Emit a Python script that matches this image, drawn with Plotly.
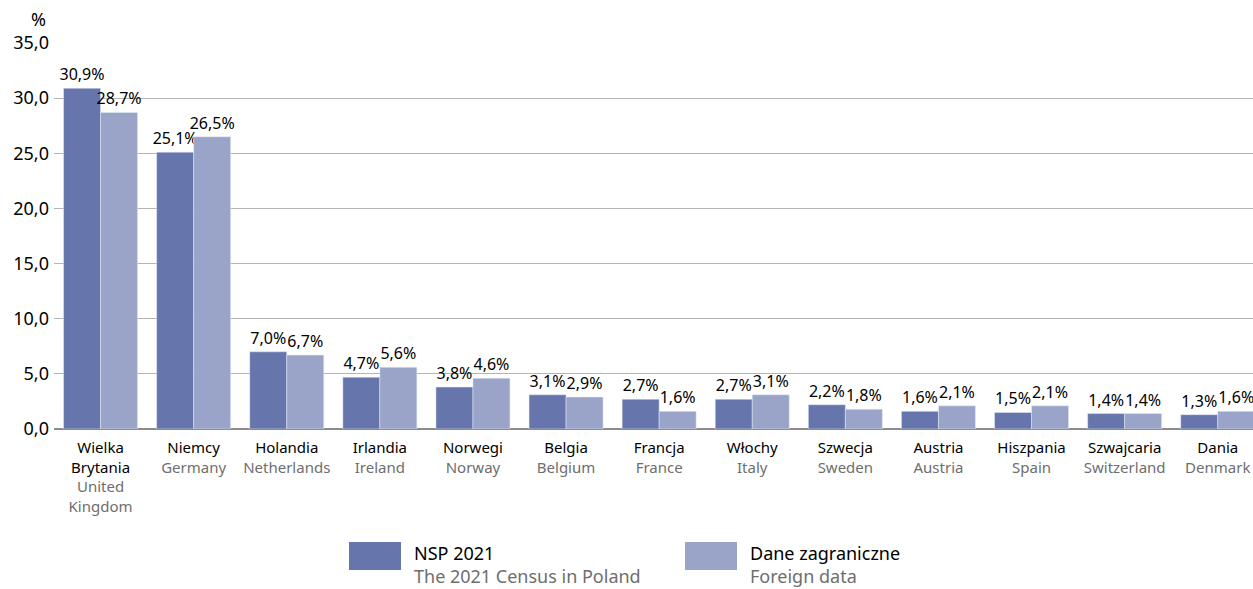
import plotly.graph_objects as go

countries_pl = ["Wielka<br>Brytania", "Niemcy", "Holandia", "Irlandia", "Norwegi", "Belgia",
                "Francja", "Włochy", "Szwecja", "Austria", "Hiszpania", "Szwajcaria", "Dania"]
countries_en = ["United<br>Kingdom", "Germany", "Netherlands", "Ireland", "Norway", "Belgium",
                "France", "Italy", "Sweden", "Austria", "Spain", "Switzerland", "Denmark"]
nsp_2021 = [30.9, 25.1, 7.0, 4.7, 3.8, 3.1, 2.7, 2.7, 2.2, 1.6, 1.5, 1.4, 1.3]
foreign = [28.7, 26.5, 6.7, 5.6, 4.6, 2.9, 1.6, 3.1, 1.8, 2.1, 2.1, 1.4, 1.6]
y_ticks = [0, 5, 10, 15, 20, 25, 30, 35]

DARK = "#6675ab"
LIGHT = "#9aa4c8"
GRAY = "#6e6e6e"
FONT = "Noto Sans"

W, H = 1253, 589
ML, MR, MT, MB = 54, 0, 43, 160
PW, PH = W - ML - MR, H - MT - MB

def fmt(v):
    return f"{v:.1f}".replace(".", ",")

xs = list(range(len(countries_pl)))
ticktext = [f"{p}<br><span style='color:{GRAY}'>{e}</span>" for p, e in zip(countries_pl, countries_en)]

fig = go.Figure()
fig.add_trace(go.Bar(x=xs, y=nsp_2021, name="NSP 2021", marker_color=DARK,
                     text=[fmt(v) + "%" for v in nsp_2021], textposition="outside",
                     textfont=dict(size=16, color="black", family=FONT),
                     constraintext="none", cliponaxis=False, showlegend=False))
fig.add_trace(go.Bar(x=xs, y=foreign, name="Dane zagraniczne", marker_color=LIGHT,
                     text=[fmt(v) + "%" for v in foreign], textposition="outside",
                     textfont=dict(size=16, color="black", family=FONT),
                     constraintext="none", cliponaxis=False, showlegend=False))

span = PW / 93.1
fig.update_layout(
    width=W, height=H,
    margin=dict(l=ML, r=MR, t=MT, b=MB),
    plot_bgcolor="white", paper_bgcolor="white",
    barmode="group", bargap=0.205, bargroupgap=0,
    font=dict(family=FONT, color="black"),
    xaxis=dict(range=[-0.5, -0.5 + span], tickvals=xs, ticktext=ticktext,
               tickfont=dict(size=15, color="black", family=FONT),
               showgrid=False, showline=False, ticks="", zeroline=False,
               ticklabelstandoff=8),
    yaxis=dict(range=[0, 35], tickvals=y_ticks, ticktext=[fmt(v) for v in y_ticks],
               tickfont=dict(size=18, color="black", family=FONT),
               showgrid=True, gridcolor="#b4b4b4", gridwidth=1,
               zeroline=True, zerolinecolor="#8c8c8c", zerolinewidth=1.5,
               ticks="", ticklabelstandoff=4),
)

def px_x(px):
    return (px - ML) / PW

def px_y(py):
    return (H - MB - py) / PH

annotations = [dict(text="%", x=px_x(38), y=px_y(19), xref="paper", yref="paper",
                    showarrow=False, font=dict(size=18, color="black"), xanchor="center", yanchor="middle")]
shapes = []
for x0, col, t1, t2 in [(349, DARK, "NSP 2021", "The 2021 Census in Poland"),
                        (685, LIGHT, "Dane zagraniczne", "Foreign data")]:
    shapes.append(dict(type="rect", xref="paper", yref="paper",
                       x0=px_x(x0), x1=px_x(x0 + 52), y0=px_y(570), y1=px_y(542),
                       fillcolor=col, line=dict(width=0)))
    annotations.append(dict(text=t1, x=px_x(x0 + 63), y=px_y(553), xref="paper", yref="paper",
                            showarrow=False, xanchor="left", yanchor="middle",
                            font=dict(size=18, color="black")))
    annotations.append(dict(text=t2, x=px_x(x0 + 63), y=px_y(576), xref="paper", yref="paper",
                            showarrow=False, xanchor="left", yanchor="middle",
                            font=dict(size=18, color=GRAY)))
fig.update_layout(annotations=annotations, shapes=shapes)

fig.write_html("out.html", config={"displayModeBar": False},
               post_script="document.body.style.margin='0';document.body.style.overflow='hidden';")
